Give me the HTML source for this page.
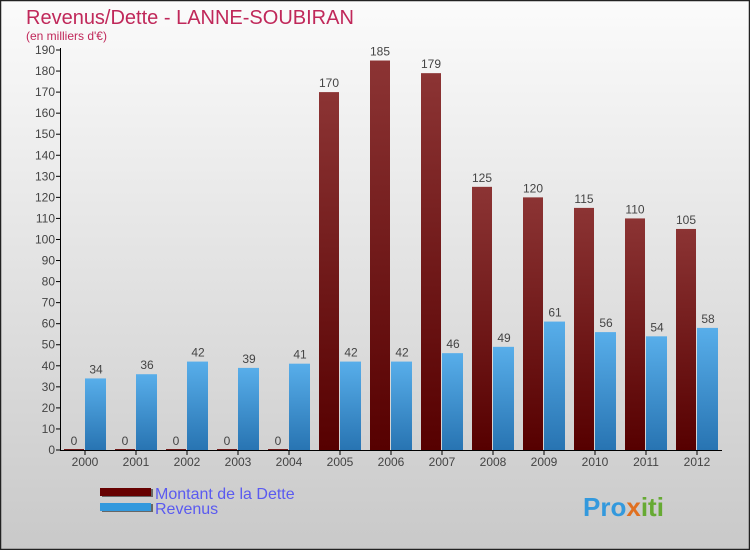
<!DOCTYPE html>
<html><head><meta charset="utf-8"><style>
body{margin:0;width:750px;height:550px;overflow:hidden;font-family:"Liberation Sans",sans-serif}
</style></head><body>
<svg width="750" height="550" xmlns="http://www.w3.org/2000/svg" id="svg">
<defs>
<linearGradient id="bg" x1="0" y1="0" x2="0" y2="1"><stop offset="0" stop-color="#fbfbfb"/><stop offset="1" stop-color="#c9c9c9"/></linearGradient>
<linearGradient id="gd" x1="0" y1="0" x2="0" y2="1"><stop offset="0" stop-color="#8c3434"/><stop offset="1" stop-color="#560000"/></linearGradient>
<linearGradient id="gr" x1="0" y1="0" x2="0" y2="1"><stop offset="0" stop-color="#58aeea"/><stop offset="1" stop-color="#2874b2"/></linearGradient>
</defs>
<rect x="0.5" y="0.5" width="749" height="549" fill="url(#bg)" stroke="#222" stroke-width="1.5"/>
<text x="26" y="24" font-size="20" fill="#c0285a">Revenus/Dette - LANNE-SOUBIRAN</text>
<text x="26" y="40" font-size="12" fill="#c0285a">(en milliers d'€)</text>
<g id="plot"></g>
<g>
<rect x="102" y="489" width="51" height="8" fill="#666"/><rect x="100" y="488" width="51" height="8" fill="#660000"/>
<text x="155" y="499" font-size="16" fill="#5a5af0">Montant de la Dette</text>
<rect x="102" y="504" width="51" height="8" fill="#666"/><rect x="100" y="503" width="51" height="8" fill="#3399dd"/>
<text x="155" y="514" font-size="16" fill="#5a5af0">Revenus</text>
</g>
<text x="583" y="516" font-size="26" font-weight="bold" fill="#3399dd">Pro<tspan fill="#e07020">x</tspan><tspan fill="#66aa33">iti</tspan></text>
</svg>
<script>
const years=["2000","2001","2002","2003","2004","2005","2006","2007","2008","2009","2010","2011","2012"];
const dette=[0,0,0,0,0,170,185,179,125,120,115,110,105];
const revenus=[34,36,42,39,41,42,42,46,49,61,56,54,58];
const yTicks=[0,10,20,30,40,50,60,70,80,90,100,110,120,130,140,150,160,170,180,190];
const NS="http://www.w3.org/2000/svg",g=document.getElementById('plot');
const y=v=>450-v*400/190, x=i=>85+i*51;
function mk(t,a,txt){const e=document.createElementNS(NS,t);for(const k in a)e.setAttribute(k,a[k]);if(txt!==undefined)e.textContent=txt;g.appendChild(e);return e;}
yTicks.forEach(v=>{
 const l=mk('line',{x1:56,x2:61,y1:y(v),y2:y(v),stroke:'#000'});
 
 
 const t=mk('text',{x:55,y:y(v)+4,'font-size':12,fill:'#444','text-anchor':'end'},v);
 
 
});
years.forEach((yr,i)=>{
 const cx=x(i);
 const hd=Math.max(dette[i]*400/190,1);
 const b1=mk('rect',{x:cx-21,y:450-hd,width:20,height:hd,fill:'url(#gd)'});
 
 
 const t1=mk('text',{x:cx-11,y:y(dette[i])-5,'font-size':12,fill:'#444','text-anchor':'middle'},dette[i]);
 
 
 const hr=revenus[i]*400/190;
 const b2=mk('rect',{x:cx,y:450-hr,width:21,height:hr,fill:'url(#gr)'});
 
 
 const t2=mk('text',{x:cx+11,y:y(revenus[i])-5,'font-size':12,fill:'#444','text-anchor':'middle'},revenus[i]);
 
 
 const tk=mk('line',{x1:cx,x2:cx,y1:450,y2:455,stroke:'#000'});
 
 
 const xl=mk('text',{x:cx,y:466,'font-size':12,fill:'#444','text-anchor':'middle'},yr);
 
 
});
const ya=mk('line',{x1:60.5,x2:60.5,y1:48,y2:451,stroke:'#000'});


const xa=mk('line',{x1:60,x2:722,y1:450.5,y2:450.5,stroke:'#000'});


</script>
</body></html>
